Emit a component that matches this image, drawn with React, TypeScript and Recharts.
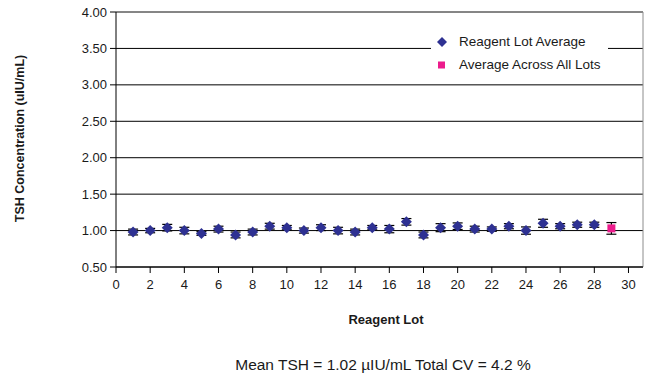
import {
  ScatterChart,
  Scatter,
  XAxis,
  YAxis,
  CartesianGrid,
  ErrorBar,
  ReferenceLine,
  Label,
} from 'recharts';

// Reagent lots 1..28 with their averages and error half-ranges
const lots = [
  1, 2, 3, 4, 5, 6, 7, 8, 9, 10, 11, 12, 13, 14, 15, 16, 17, 18, 19, 20, 21, 22, 23, 24, 25, 26, 27,
  28,
];
const lotAverages = [
  0.98, 1.0, 1.04, 1.0, 0.96, 1.02, 0.94, 0.98, 1.06, 1.04, 1.0, 1.04, 1.0, 0.98, 1.04, 1.02, 1.12,
  0.94, 1.04, 1.06, 1.02, 1.02, 1.06, 1.0, 1.1, 1.06, 1.08, 1.08,
];
const lotErrors = [
  0.04, 0.03, 0.045, 0.045, 0.025, 0.04, 0.04, 0.04, 0.04, 0.03, 0.035, 0.04, 0.045, 0.04, 0.03,
  0.05, 0.045, 0.04, 0.055, 0.045, 0.04, 0.03, 0.035, 0.05, 0.055, 0.035, 0.035, 0.035,
];

const overallLot = 29;
const overallAverage = 1.03;
const overallError = 0.08;

const xTicks = [0, 2, 4, 6, 8, 10, 12, 14, 16, 18, 20, 22, 24, 26, 28, 30];
const yTicks = [0.5, 1.0, 1.5, 2.0, 2.5, 3.0, 3.5, 4.0];

const seriesNames = ['Reagent Lot Average', 'Average Across All Lots'];
const NAVY = '#2e3192';
const PINK = '#ec1c8c';
const TEXT = '#1a1a1a';
const FONT = '"Liberation Sans", Arial, Helvetica, sans-serif';

const lotData = lots.map((lot, i) => ({ lot, avg: lotAverages[i], err: lotErrors[i] }));
const overallData = [{ lot: overallLot, avg: overallAverage, err: overallError }];

const Diamond = (props: any) => {
  const { cx, cy } = props;
  const r = 5.5;
  return (
    <polygon
      points={`${cx},${cy - r} ${cx + r},${cy} ${cx},${cy + r} ${cx - r},${cy}`}
      fill={NAVY}
    />
  );
};

const Square = (props: any) => {
  const { cx, cy } = props;
  return <rect x={cx - 4} y={cy - 4} width={8} height={8} fill={PINK} />;
};

const LegendBox = () => (
  <div
    style={{
      position: 'absolute',
      left: 431,
      top: 28,
      width: 177,
      height: 48,
      background: '#fff',
      fontFamily: FONT,
      fontSize: 13.5,
      color: TEXT,
    }}
  >
    {seriesNames.map((name, i) => (
      <div
        key={name}
        style={{ display: 'flex', alignItems: 'center', height: 23, marginTop: i === 0 ? 2 : 0 }}
      >
        <svg width={28} height={14} style={{ flex: 'none' }}>
          {i === 0 ? (
            <polygon points="11,2 16,7 11,12 6,7" fill={NAVY} />
          ) : (
            <rect x={7} y={3.5} width={7} height={7} fill={PINK} />
          )}
        </svg>
        <span>{name}</span>
      </div>
    ))}
  </div>
);

export default function App() {
  return (
    <div style={{ position: 'absolute', left: 0, top: 0, width: 652, height: 374, background: '#fff' }}>
      <ScatterChart
        width={652}
        height={374}
        margin={{ top: 12, right: 9, left: 0, bottom: 77 }}
        style={{ fontFamily: FONT }}
      >
        <CartesianGrid vertical={false} stroke="#000" strokeWidth={1} />
        <XAxis
          type="number"
          dataKey="lot"
          domain={[0, 30.85]}
          ticks={xTicks}
          allowDataOverflow
          height={30}
          stroke="#000"
          tickSize={6}
          tickMargin={7}
          tick={{ fill: TEXT, fontSize: 13 }}
        >
          <Label
            content={() => (
              <g fontFamily={FONT} fill={TEXT}>
                <text x={386} y={319} textAnchor="middle" dominantBaseline="central" fontSize={13} fontWeight="bold">
                  Reagent Lot
                </text>
                <text x={383} y={364} textAnchor="middle" dominantBaseline="central" fontSize={15.5}>
                  Mean TSH = 1.02 µIU/mL Total CV = 4.2 %
                </text>
              </g>
            )}
          />
        </XAxis>
        <YAxis
          type="number"
          dataKey="avg"
          domain={[0.5, 4]}
          ticks={yTicks}
          width={116}
          stroke="#000"
          tickSize={6}
          tickMargin={3}
          tickFormatter={(v: number) => v.toFixed(2)}
          tick={{ fill: TEXT, fontSize: 13 }}
        >
          <Label
            content={() => (
              <text
                transform="translate(20,138.5) rotate(-90)"
                textAnchor="middle"
                dominantBaseline="central"
                fontFamily={FONT}
                fontSize={12.5}
                fontWeight="bold"
                fill={TEXT}
              >
                TSH Concentration (uIU/mL)
              </text>
            )}
          />
        </YAxis>
        <ReferenceLine y={4} stroke="#8c8c8c" strokeWidth={1} />
        <ReferenceLine x={30.85} stroke="#8c8c8c" strokeWidth={1} />
        <Scatter name={seriesNames[0]} data={lotData} shape={<Diamond />} isAnimationActive={false}>
          <ErrorBar dataKey="err" direction="y" width={5} stroke="#000" strokeWidth={1.2} />
        </Scatter>
        <Scatter name={seriesNames[1]} data={overallData} shape={<Square />} isAnimationActive={false}>
          <ErrorBar dataKey="err" direction="y" width={5} stroke="#000" strokeWidth={1.2} />
        </Scatter>
      </ScatterChart>
      <LegendBox />
    </div>
  );
}
